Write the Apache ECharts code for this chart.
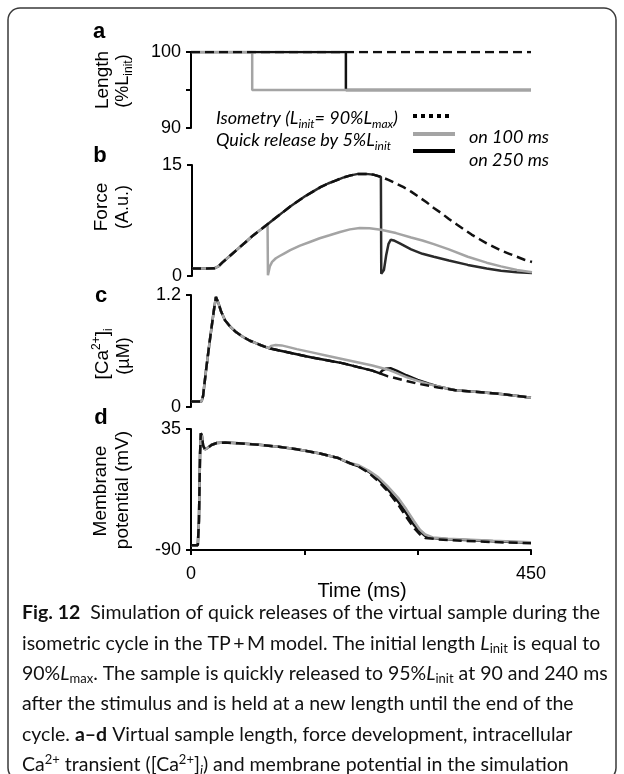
<!DOCTYPE html>
<html>
<head>
<meta charset="utf-8">
<script src="https://cdn.jsdelivr.net/npm/echarts@6/dist/echarts.min.js"></script>
<style>
  html, body { margin: 0; padding: 0; background: #fff; }
  #chart { width: 624px; height: 774px; }
</style>
</head>
<body>
<div id="chart"></div>
<script>
// ---- a: sample length (%L_init) ----
const lenIsoT = [0, 450];
const lenIsoV = [100, 100];
const lenRel1T = [0, 81, 81, 450];
const lenRel1V = [100, 100, 95, 95];
const lenRel2T = [0, 205, 205, 450];
const lenRel2V = [100, 100, 95, 95];

// ---- b: force (A.u.) ----
const forceIsoT = [0, 10, 20, 30, 35, 40, 50, 60, 70, 80, 90, 100, 110, 120, 130, 140, 150, 160, 170, 180, 190, 200, 210, 220, 230, 240, 250, 260, 270, 280, 290, 300, 310, 320, 330, 340, 350, 360, 370, 380, 390, 400, 410, 420, 430, 440, 450];
const forceIsoV = [1.0, 1.0, 1.0, 1.05, 1.3, 1.8, 2.7, 3.6, 4.5, 5.4, 6.2, 7.0, 7.8, 8.6, 9.4, 10.1, 10.8, 11.4, 12.0, 12.5, 12.9, 13.3, 13.6, 13.8, 13.8, 13.7, 13.4, 13.0, 12.5, 12.0, 11.4, 10.7, 10.0, 9.2, 8.5, 7.7, 7.0, 6.3, 5.6, 5.0, 4.4, 3.9, 3.4, 3.0, 2.6, 2.2, 1.9];
const forceRel1T = [0, 10, 20, 30, 35, 40, 50, 60, 70, 80, 90, 100, 100.5, 103, 106, 111, 116, 123, 130, 143, 156, 169, 182, 196, 209, 222, 235, 250, 270, 290, 305, 320, 340, 365, 390, 409, 430, 450];
const forceRel1V = [1.0, 1.0, 1.0, 1.05, 1.3, 1.8, 2.7, 3.6, 4.5, 5.4, 6.2, 7.0, 0.1, 1.3, 1.9, 2.4, 2.7, 3.1, 3.5, 4.1, 4.6, 5.1, 5.5, 5.95, 6.3, 6.5, 6.45, 6.25, 5.8, 5.2, 4.8, 4.3, 3.6, 2.6, 1.8, 1.3, 0.8, 0.5];
const forceRel2T = [0, 10, 20, 30, 35, 40, 50, 60, 70, 80, 90, 100, 110, 120, 130, 140, 150, 160, 170, 180, 190, 200, 210, 220, 230, 240, 250, 250.5, 252, 254, 257, 260, 263, 267, 275, 290, 305, 320, 340, 365, 390, 409, 430, 450];
const forceRel2V = [1.0, 1.0, 1.0, 1.05, 1.3, 1.8, 2.7, 3.6, 4.5, 5.4, 6.2, 7.0, 7.8, 8.6, 9.4, 10.1, 10.8, 11.4, 12.0, 12.5, 12.9, 13.3, 13.6, 13.8, 13.8, 13.7, 13.4, 0.3, 0.1, 0.8, 2.8, 4.3, 4.9, 4.8, 4.4, 3.6, 3.0, 2.6, 2.1, 1.5, 1.0, 0.7, 0.5, 0.4];

// ---- c: intracellular Ca2+ (uM) ----
const caIsoT = [0, 10, 14, 16, 20, 25, 30, 33, 36, 40, 45, 52, 60, 69, 78, 90, 103, 120, 140, 160, 180, 200, 220, 240, 250, 260, 280, 300, 327, 350, 380, 410, 430, 450];
const caIsoV = [0.06, 0.06, 0.06, 0.12, 0.40, 0.72, 1.02, 1.18, 1.12, 1.02, 0.93, 0.86, 0.80, 0.75, 0.71, 0.67, 0.63, 0.60, 0.565, 0.53, 0.50, 0.47, 0.43, 0.39, 0.36, 0.33, 0.29, 0.25, 0.21, 0.18, 0.16, 0.14, 0.12, 0.10];
const caRel1T = [0, 10, 14, 16, 20, 25, 30, 33, 36, 40, 45, 52, 60, 69, 78, 90, 103, 106, 112, 120, 140, 160, 180, 200, 220, 240, 261, 270, 285, 300, 315, 327, 350, 380, 410, 430, 450];
const caRel1V = [0.06, 0.06, 0.06, 0.12, 0.40, 0.72, 1.02, 1.18, 1.12, 1.02, 0.93, 0.86, 0.80, 0.75, 0.71, 0.67, 0.63, 0.655, 0.665, 0.66, 0.62, 0.585, 0.55, 0.515, 0.48, 0.445, 0.40, 0.37, 0.32, 0.28, 0.245, 0.22, 0.18, 0.16, 0.14, 0.12, 0.10];
const caRel2T = [0, 10, 14, 16, 20, 25, 30, 33, 36, 40, 45, 52, 60, 69, 78, 90, 103, 120, 140, 160, 180, 200, 220, 240, 250, 253, 258, 264, 272, 285, 300, 315, 327, 350, 380, 410, 430, 450];
const caRel2V = [0.06, 0.06, 0.06, 0.12, 0.40, 0.72, 1.02, 1.18, 1.12, 1.02, 0.93, 0.86, 0.80, 0.75, 0.71, 0.67, 0.63, 0.60, 0.565, 0.53, 0.50, 0.47, 0.43, 0.39, 0.36, 0.39, 0.41, 0.415, 0.39, 0.34, 0.29, 0.25, 0.22, 0.18, 0.16, 0.14, 0.12, 0.10];

// ---- d: membrane potential (mV) ----
const apIsoT = [0, 9, 10.5, 12, 13, 14.5, 16, 18.5, 22, 27, 34, 45, 63, 90, 116, 140, 169, 195, 222, 235, 248, 260, 275, 285, 296, 303, 310, 327, 360, 400, 450];
const apIsoV = [-85, -85, -60, 10, 30.5, 28, 18, 14, 15.5, 18.5, 20.5, 21, 20.2, 18.7, 16.7, 14, 10, 5, -4, -10, -19, -29, -44, -56, -68, -74, -77.5, -79, -80.5, -81.8, -83];
const apRel1T = [0, 9, 10.5, 12, 13, 14.5, 16, 18.5, 22, 27, 34, 45, 63, 90, 116, 140, 169, 195, 210, 222, 235, 248, 260, 275, 285, 295, 303, 310, 320, 340, 400, 450];
const apRel1V = [-85, -85, -60, 10, 30.5, 28, 18, 14, 15.5, 18.5, 20.5, 21, 20.2, 18.7, 16.7, 14, 10, 5, 0, -2.5, -8, -15, -24, -37, -48, -60, -69, -74, -77, -78.5, -80.5, -82];
const apRel2T = [0, 9, 10.5, 12, 13, 14.5, 16, 18.5, 22, 27, 34, 45, 63, 90, 116, 140, 169, 195, 210, 222, 235, 248, 260, 275, 285, 295, 303, 310, 320, 340, 400, 450];
const apRel2V = [-85, -85, -60, 10, 30.5, 28, 18, 14, 15.5, 18.5, 20.5, 21, 20.2, 18.7, 16.7, 14, 10, 5, -0.5, -3.5, -9, -17, -27, -41, -52, -64, -71, -75.5, -77.5, -79, -81, -82.5];

// axis ticks and labels
const timeTicks = [0, 150, 300, 450];
const timeLabels = [0, 450];
const lenTicks = [90, 95, 100], lenLabels = [90, 100];
const forceTicks = [0, 15], caTicks = [0, 1.2], apTicks = [-90, 35];

const BLACK = '#111';
const DARK = '#2a2a2a';
const GRAY = '#a4a4a4';
const AXIS_FONT = 'Liberation Sans';

const zip = (t, v) => t.map((x, i) => [x, v[i]]);

const chart = echarts.init(document.getElementById('chart'), null, { renderer: 'canvas' });

const grids = [
  { left: 191, top: 52, width: 340, height: 76 },
  { left: 192, top: 165, width: 340, height: 111 },
  { left: 191, top: 295, width: 340, height: 112 },
  { left: 191, top: 429, width: 340, height: 121 }
];

function xAx(i, visible) {
  return {
    gridIndex: i, type: 'value', min: 0, max: 450, show: visible,
    axisLine: { show: true, onZero: false, lineStyle: { color: '#000', width: 2 } },
    axisTick: { show: true, customValues: timeTicks, length: 5, lineStyle: { color: '#000', width: 2 } },
    axisLabel: { customValues: timeLabels, color: '#000', fontSize: 18, fontFamily: AXIS_FONT, margin: 15 },
    splitLine: { show: false }
  };
}
function yAx(i, min, max, ticks, labels) {
  return {
    gridIndex: i, type: 'value', min: min, max: max,
    axisLine: { show: true, onZero: false, lineStyle: { color: '#000', width: 2 } },
    axisTick: { show: true, customValues: ticks, length: 5, lineStyle: { color: '#000', width: 2 } },
    axisLabel: { customValues: labels, color: '#000', fontSize: 18, fontFamily: AXIS_FONT, margin: 10 },
    splitLine: { show: false }
  };
}
function trace(i, data, color, dashed, z) {
  return {
    type: 'line', xAxisIndex: i, yAxisIndex: i, data: data,
    showSymbol: false, symbol: 'none', silent: true, z: z,
    lineStyle: { color: color, width: 2.5, type: dashed ? [9, 5] : 'solid', cap: 'butt' }
  };
}

function txt(x, y, text, o) {
  o = o || {};
  return {
    type: 'text', x: x, y: y, rotation: o.rot || 0, silent: true,
    style: {
      text: text,
      fontSize: o.size || 18,
      fontFamily: o.family || AXIS_FONT,
      fontWeight: o.weight || 'normal',
      fontStyle: o.style || 'normal',
      fill: o.color || '#000',
      lineHeight: o.lh || 24,
      align: o.align || 'center',
      verticalAlign: o.valign || 'middle',
      textAlign: o.align || 'center',
      textVerticalAlign: o.valign || 'middle',
      rich: o.rich || {}
    }
  };
}

const R = Math.PI / 2;
const axisRich = {
  sub: { fontSize: 12, lineHeight: 14, verticalAlign: 'bottom', fontFamily: AXIS_FONT },
  sup: { fontSize: 12, lineHeight: 14, verticalAlign: 'top', fontFamily: AXIS_FONT }
};
const legRich = {
  sub: { fontSize: 12, lineHeight: 14, verticalAlign: 'bottom', fontStyle: 'italic', fontFamily: 'Lato' }
};
const capFont = 'Lato';
const CAP = 19.5;
const capRich = {
  b: { fontWeight: 'bold', fontFamily: capFont, fontSize: CAP },
  i: { fontStyle: 'italic', fontFamily: capFont, fontSize: CAP },
  sub: { fontSize: 13, lineHeight: 15, verticalAlign: 'bottom', fontFamily: capFont },
  sup: { fontSize: 13, lineHeight: 15, verticalAlign: 'top', fontFamily: capFont },
  isub: { fontSize: 13, lineHeight: 15, verticalAlign: 'bottom', fontFamily: capFont, fontStyle: 'italic' }
};
const capLines = [
  '{b|Fig. 12}  Simulation of quick releases of the virtual sample during the',
  'isometric cycle in the TP\u2009+\u2009M model. The initial length {i|L}{sub|init} is equal to',
  '90%{i|L}{sub|max}. The sample is quickly released to 95%{i|L}{sub|init} at 90 and 240 ms',
  'after the stimulus and is held at a new length until the end of the',
  'cycle. {b|a\u2013d} Virtual sample length, force development, intracellular',
  'Ca{sup|2+} transient ([Ca{sup|2+}]{isub|i}) and membrane potential in the simulation'
];

const LEG = 18;
const graphics = [
  { type: 'rect', silent: true, shape: { x: 8, y: 8, width: 608, height: 772, r: 12 },
    style: { fill: 'none', stroke: '#3a3a3a', lineWidth: 1.5 } },
  // panel letters
  txt(99, 32, 'a', { size: 22, weight: 'bold' }),
  txt(100, 156, 'b', { size: 22, weight: 'bold' }),
  txt(101, 296, 'c', { size: 22, weight: 'bold' }),
  txt(101, 418, 'd', { size: 22, weight: 'bold' }),
  // y-axis titles
  txt(103, 80, 'Length', { rot: R, size: 19 }),
  txt(123, 81, '(%L{sub|init})', { rot: R, rich: axisRich }),
  txt(102, 207, 'Force', { rot: R, size: 19 }),
  txt(123, 207, '(A.u.)', { rot: R }),
  txt(103, 354, '[Ca{sup|2+}]{sub|i}', { rot: R, rich: axisRich, size: 19 }),
  txt(124, 356, '(\u00b5M)', { rot: R }),
  txt(101, 491, 'Membrane', { rot: R, size: 19 }),
  txt(123, 490, 'potential (mV)', { rot: R, size: 19 }),
  // x-axis title
  txt(362, 591, 'Time (ms)', { size: 20 }),
  // legend
  txt(216, 118, 'Isometry (L{sub|init}= 90%L{sub|max})', { align: 'left', size: LEG, family: 'Lato', style: 'italic', rich: legRich }),
  txt(216, 140, 'Quick release by 5%L{sub|init}', { align: 'left', size: LEG, family: 'Lato', style: 'italic', rich: legRich }),
  { type: 'line', silent: true, shape: { x1: 413, y1: 116, x2: 451, y2: 116 },
    style: { stroke: '#000', lineWidth: 4, lineDash: [4, 4] } },
  { type: 'line', silent: true, shape: { x1: 413, y1: 134, x2: 455, y2: 134 },
    style: { stroke: GRAY, lineWidth: 4 } },
  { type: 'line', silent: true, shape: { x1: 413, y1: 151, x2: 455, y2: 151 },
    style: { stroke: '#000', lineWidth: 4 } },
  txt(469, 137, 'on 100 ms', { align: 'left', size: LEG, family: 'Lato', style: 'italic' }),
  txt(469, 160, 'on 250 ms', { align: 'left', size: LEG, family: 'Lato', style: 'italic' })
];
capLines.forEach((line, k) => {
  graphics.push(txt(22, 613 + k * 30.4, line, { align: 'left', size: CAP, family: capFont, rich: capRich, color: '#111' }));
});

chart.setOption({
  animation: false,
  backgroundColor: '#fff',
  grid: grids,
  xAxis: [xAx(0, false), xAx(1, false), xAx(2, false), xAx(3, true)],
  yAxis: [
    yAx(0, 90, 100, lenTicks, lenLabels),
    yAx(1, 0, 15, forceTicks, forceTicks),
    yAx(2, 0, 1.2, caTicks, caTicks),
    yAx(3, -90, 35, apTicks, apTicks)
  ],
  series: [
    trace(0, zip(lenRel2T, lenRel2V), BLACK, false, 2),
    trace(0, zip(lenRel1T, lenRel1V), GRAY, false, 3),
    trace(0, zip(lenIsoT, lenIsoV), BLACK, true, 4),
    trace(1, zip(forceRel2T, forceRel2V), DARK, false, 2),
    trace(1, zip(forceRel1T, forceRel1V), GRAY, false, 3),
    trace(1, zip(forceIsoT, forceIsoV), BLACK, true, 4),
    trace(2, zip(caRel2T, caRel2V), BLACK, false, 2),
    trace(2, zip(caRel1T, caRel1V), GRAY, false, 3),
    trace(2, zip(caIsoT, caIsoV), BLACK, true, 4),
    trace(3, zip(apRel2T, apRel2V), BLACK, false, 2),
    trace(3, zip(apRel1T, apRel1V), GRAY, false, 3),
    trace(3, zip(apIsoT, apIsoV), BLACK, true, 4)
  ],
  graphic: graphics
});
</script>
</body>
</html>
